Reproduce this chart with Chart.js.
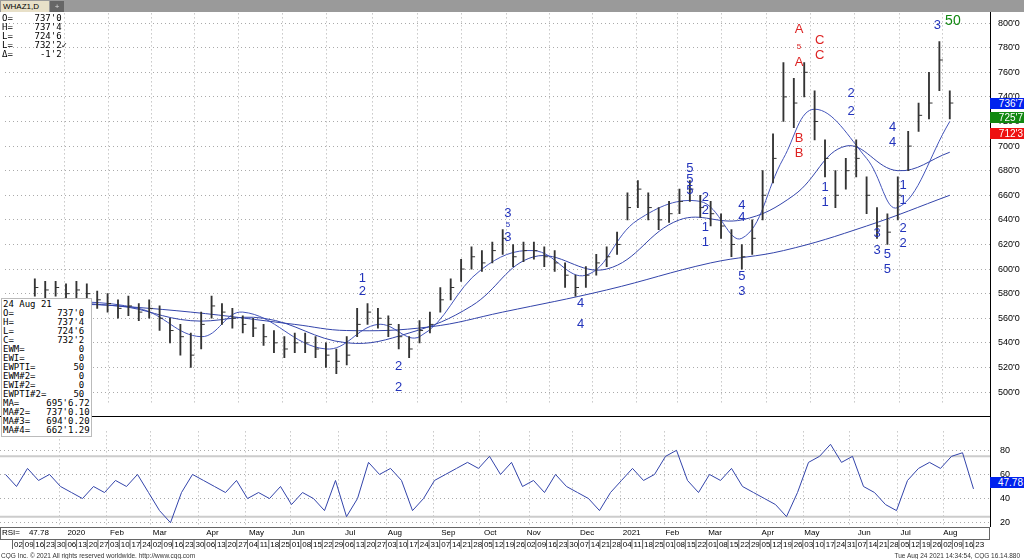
<!DOCTYPE html>
<html><head><meta charset="utf-8">
<script src="https://cdn.jsdelivr.net/npm/chart.js@4"></script>
<style>
body{margin:0;width:1024px;height:559px;overflow:hidden;background:#fff;font-family:"Liberation Sans",Arial,sans-serif;position:relative}
.w{position:absolute;left:0;width:1024px}
.t{position:absolute;font-size:9px;color:#000;white-space:pre;line-height:9px;font-family:"DejaVu Sans Mono",monospace;z-index:2}
.box{position:absolute;font-size:10px;color:#fff;padding:0 3px;line-height:11px;text-align:right;width:30px;left:990px;z-index:2}
</style></head><body>
<div style="position:absolute;left:0;top:0;width:1024px;height:12px;background:#9a9a9a"></div>
<div style="position:absolute;left:1px;top:1px;width:46px;height:11px;background:#e8e0c8;font-size:8px;line-height:11px;padding-left:2px;z-index:2">WHAZ1,D</div>
<div style="position:absolute;left:50px;top:1px;width:14px;height:11px;background:#666;color:#ddd;font-size:8px;line-height:11px;text-align:center;z-index:2">+</div>
<div class="w" style="top:0;height:416px"><canvas id="c1" width="1024" height="416"></canvas></div>
<div class="w" style="top:416px;height:137px"><canvas id="c2" width="1024" height="137"></canvas></div>
<div class="t" style="left:2px;top:14px">O=    737'0
H=    737'4
L=    724'6
L=    732'2✓
Δ=     -1'2</div>
<div class="t" style="left:1px;top:298px;background:#fff;border:1px solid #bbb;padding:1px">24 Aug 21
O=        737'0
H=        737'4
L=        724'6
C=        732'2
EWM=          0
EWI=          0
EWPTI=       50
EWM#2=        0
EWI#2=        0
EWPTI#2=     50
MA=     695'6.72
MA#2=   737'0.10
MA#3=   694'0.20
MA#4=   662'1.29</div>
<div class="box" style="top:98px;background:#0022ee">736'7</div>
<div class="box" style="top:112px;background:#118811">725'7</div>
<div class="box" style="top:128px;background:#ee1111">712'3</div>
<div class="box" style="top:477px;background:#0022ee">47.78</div>
<div style="position:absolute;left:1px;top:552px;font-size:6.5px;color:#333">CQG Inc. © 2021 All rights reserved worldwide. http://www.cqg.com</div>
<div style="position:absolute;right:4px;top:552px;font-size:6.5px;color:#333">Tue Aug 24 2021 14:34:54, CQG 16.14.880</div>
<script>
const closes=[585,583,585,580,583,580,575,572,568,570,565,568,560,550,545,530,555,570,565,560,555,552,545,540,535,540,540,535,530,525,530,555,565,560,555,545,535,550,555,575,585,600,610,605,615,625,610,615,615,610,605,595,585,595,605,610,620,650,665,650,640,645,655,665,650,645,635,620,610,625,660,690,740,735,760,720,690,660,680,690,660,635,630,660,700,725,735,770,735];
const highs=[592,590,590,588,590,588,582,580,575,578,572,575,570,560,555,548,565,578,572,568,562,560,555,550,545,548,548,545,540,535,545,568,572,568,562,555,545,558,565,585,592,608,618,615,622,632,620,622,622,618,615,605,595,602,612,618,630,662,672,662,650,655,665,672,660,655,645,632,620,640,680,710,768,755,768,745,705,680,690,705,675,650,645,675,712,735,760,785,745];
const lows=[578,575,578,572,575,572,568,565,560,562,558,560,550,540,530,520,535,560,555,552,548,545,538,532,528,532,532,528,520,515,522,545,555,552,545,535,528,540,548,565,575,590,600,598,605,612,602,606,608,602,598,585,578,585,595,602,612,640,650,640,632,638,645,655,642,635,625,610,600,612,640,670,720,715,740,705,675,650,665,675,645,625,620,640,680,712,722,745,722];
const rsi=[60,50,65,55,60,50,45,40,50,45,55,50,60,45,30,20,45,60,55,50,45,55,40,45,40,50,35,45,40,30,55,25,40,70,60,65,55,30,40,55,60,65,70,65,75,60,70,50,55,45,60,50,45,40,30,45,55,65,55,60,75,80,55,45,60,55,65,50,45,40,35,25,45,70,75,85,70,75,50,45,35,30,55,65,70,65,75,78,48];
const ma1W=[5,15,25,30,38,45,55,65,72,80,88], ma1=[572,565,555,550,553,565,583,605,615,635,660];
const ma2W=[0,8,15,22,30,36,42,48,55,62,68,73,78,83,88], ma2=[570,570,558,560,540,548,570,610,600,640,640,660,700,680,695];
const ma3W=[0,10,16,20,28,33,37,43,48,53,58,64,68,72,75,80,83,88], ma3=[575,568,545,565,535,555,545,600,615,595,640,655,625,690,730,690,650,720];
const priceTicks=[500,520,540,560,580,600,620,640,660,680,700,720,740,760,780,800];
const monthNames=['Jan','Feb','Mar','Apr','May','Jun','Jul','Aug','Sep','Oct','Nov','Dec'];
const marks=[
 [31.5,592,'1','b'],[31.5,582,'2','b'],[35,521,'2','b'],[35,504,'2','b'],
 [45.5,645,'3','b'],[45.5,636,'5','s'],[45.5,626,'3','b'],[52.5,572,'4','b'],[52.5,555,'4','b'],
 [63,682,'5','b'],[63,673,'5','b'],[63,664,'5','b'],[64.5,658,'2','b'],[64.5,648,'2','b'],
 [64.5,634,'1','b'],[64.5,622,'1','b'],[68,652,'4','b'],[68,642,'4','b'],[68,594,'5','b'],[68,582,'3','b'],
 [73.5,795,'A','r'],[73.5,781,'5','rs'],[73.5,768,'A','r'],[73.5,706,'B','r'],[73.5,694,'B','r'],
 [75.5,786,'C','r'],[75.5,774,'C','r'],[76,666,'1','b'],[76,654,'1','b'],
 [78.5,743,'2','b'],[78.5,728,'2','b'],[82.5,715,'4','b'],[82.5,703,'4','b'],
 [81,629,'3','b'],[81,615,'3','b'],[82,612,'5','b'],[82,600,'5','b'],
 [83.5,668,'1','b'],[83.5,656,'1','b'],[83.5,633,'2','b'],[83.5,621,'2','b'],[86.8,798,'3','b'],[88.3,802,'50','g']
];
const monthPx=[60,107,150,198,245,290,338,387,433,480,529,572,620,664,706,757,803,849,897,943];
const toU=p=>(p-5.5)/11;
const grid={color:'#aaa',drawTicks:false};
const brd={display:false,dash:[1,3]};
function line(w,v,c){return {type:'line',data:w.map((x,i)=>({x,y:v[i]})),borderColor:c,borderWidth:1,pointRadius:0,tension:0.4};}
const markPlugin={id:'marks',afterDatasetsDraw(ch){const c=ch.ctx,xs=ch.scales.x,ys=ch.scales.y;c.save();c.textAlign='center';c.textBaseline='middle';
 for(const[m,p,t,k]of marks){const col=k[0]=='r'?'#dd2222':k=='g'?'#118811':'#2233bb';const sz=k.includes('s')?8:(k=='g'?14:13);
  c.fillStyle=col;c.font=sz+'px "Liberation Sans"';c.fillText(t,xs.getPixelForValue(m),ys.getPixelForValue(p));}
 c.strokeStyle='#000';c.beginPath();c.moveTo(990.5,12);c.lineTo(990.5,416);c.stroke();c.restore();}};
new Chart(document.getElementById('c1'),{
 data:{datasets:[
  {type:'bar',data:closes.map((c,i)=>({x:i,y:[lows[i],highs[i]]})),backgroundColor:'#333',barThickness:1.2,grouped:false},
  {type:'scatter',data:closes.map((c,i)=>({x:i+0.15,y:c})),pointStyle:'line',pointRadius:2,borderColor:'#333',borderWidth:1},
  line(ma1W,ma1,'#3344aa'),line(ma2W,ma2,'#3344aa'),line(ma3W,ma3,'#4455bb')]},
 options:{animation:false,responsive:false,plugins:{legend:{display:false},tooltip:{enabled:false}},
  layout:{padding:{top:12,left:0,right:0,bottom:0}},
  scales:{x:{type:'linear',min:-0.5,max:89.5,grid,ticks:{display:false},border:brd,
     afterBuildTicks(s){s.ticks=monthPx.map(p=>({value:toU(p)}));}},
   y:{position:'right',min:491.4,max:807.9,afterFit(s){s.width=34;},grid,border:brd,
     afterBuildTicks(s){s.ticks=priceTicks.map(v=>({value:v}));},
     ticks:{padding:8,color:'#000',font:{size:9,family:'Liberation Sans'},callback:v=>v+"'0"}}}},
 plugins:[markPlugin]});
const datePlugin={id:'dates',afterDraw(ch){const c=ch.ctx,xs=ch.scales.x;c.save();
 c.strokeStyle='#000';c.beginPath();c.moveTo(990.5,0);c.lineTo(990.5,111);c.moveTo(0,0.5);c.lineTo(990,0.5);c.stroke();
 c.fillStyle='#fff';c.fillRect(0,111,1024,26);c.strokeStyle='#666';c.strokeRect(0.5,111.5,989,12);
 c.font='8px "Liberation Sans"';c.fillStyle='#000';c.textBaseline='middle';
 c.fillText('RSI=    47.78',2,117);c.fillText('RSI',2,6);
 const start=new Date(2019,11,2);let prev=-1;
 for(let w=0;w<91;w++){const d=new Date(start.getTime()+w*7*864e5);const px=14+10.68*w;if(px>985)break;
  const x=xs.getPixelForValue(toU(px));
  if(d.getMonth()!=prev&&w>0){c.fillText(d.getMonth()==0?String(d.getFullYear()):monthNames[d.getMonth()],x,117);}
  c.beginPath();c.moveTo(x-1.5,124);c.lineTo(x-1.5,133);c.stroke();
  prev=d.getMonth();c.fillText(String(d.getDate()).padStart(2,'0'),x,129);}
 c.restore();}};
new Chart(document.getElementById('c2'),{
 data:{datasets:[{type:'line',data:rsi.map((v,i)=>({x:i,y:v})),borderColor:'#3344aa',borderWidth:1,pointRadius:0,tension:0},
  {type:'line',data:[{x:-0.5,y:75},{x:89.5,y:75}],borderColor:'#ccc',borderWidth:2,pointRadius:0},
  {type:'line',data:[{x:-0.5,y:25},{x:89.5,y:25}],borderColor:'#ccc',borderWidth:2,pointRadius:0}]},
 options:{animation:false,responsive:false,plugins:{legend:{display:false},tooltip:{enabled:false}},
  layout:{padding:{bottom:26}},
  scales:{x:{type:'linear',min:-0.5,max:89.5,grid,ticks:{display:false},border:brd,
     afterBuildTicks(s){s.ticks=monthPx.map(p=>({value:toU(p)}));}},
   y:{position:'right',min:16.4,max:95.7,afterFit(s){s.width=34;},grid,border:brd,
     afterBuildTicks(s){s.ticks=[20,40,60,80].map(v=>({value:v}));},
     ticks:{padding:10,color:'#000',font:{size:9,family:'Liberation Sans'}}}}},
 plugins:[datePlugin]});
</script></body></html>
